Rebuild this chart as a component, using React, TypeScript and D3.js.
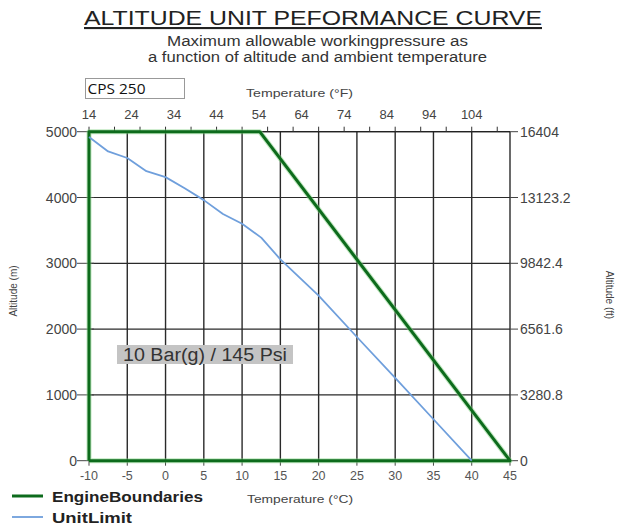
import React from 'react'
import * as d3 from 'd3'

// engine boundary polygon (°C, m)
const engineBoundaries: [number, number][] = [
  [-10, 0], [-10, 5000], [12.3, 5000], [45, 0], [-10, 0],
]
// unit limit curve (°C, m)
const unitLimit: [number, number][] = [
  [-10, 4920], [-7.5, 4700], [-5, 4600], [-2.5, 4400], [0, 4310], [2.5, 4140],
  [5, 3960], [7.5, 3750], [10, 3600], [12.5, 3390], [15, 3060], [20, 2510],
  [25, 1880], [30, 1260], [35, 630], [40, 0],
]
const celsiusTicks = [-10, -5, 0, 5, 10, 15, 20, 25, 30, 35, 40, 45]
const fahrenheitLabels = [14, 24, 34, 44, 54, 64, 74, 84, 94, 104]
const fahrenheitTicks = [14, 20, 26, 32, 38, 44, 50, 56, 62, 68, 74, 80, 86, 92, 98, 104, 110]
const altitudeTicks = [0, 1000, 2000, 3000, 4000, 5000]
const feetLabels = ['0', '3280.8', '6561.6', '9842.4', '13123.2', '16404']

const W = 618
const H = 529
const font = '"Liberation Sans", Arial, sans-serif'

export default function App() {
  const x = d3.scaleLinear().domain([-10, 45]).range([89, 510])
  const xf = d3.scaleLinear().domain([14, 113]).range([89, 510])
  const y = d3.scaleLinear().domain([0, 5000]).range([460.7, 131.7])
  const line = d3.line<[number, number]>().x(d => x(d[0])).y(d => y(d[1]))

  const [x0, x1] = x.range()
  const [yb, yt] = y.range()

  return (
    <div style={{ position: 'fixed', left: 0, top: 0 }}>
      <svg width={W} height={H} style={{ display: 'block', background: '#fff' }} fontFamily={font}>
        {/* titles */}
        <text x={84} y={25} fontSize={21} fill="#222" textDecoration="underline" textLength={458} lengthAdjust="spacingAndGlyphs">
          ALTITUDE UNIT PEFORMANCE CURVE
        </text>
        <text x={167} y={46} fontSize={15.5} fill="#333" textLength={301} lengthAdjust="spacingAndGlyphs">Maximum allowable workingpressure as</text>
        <text x={148} y={62} fontSize={15.5} fill="#333" textLength={339} lengthAdjust="spacingAndGlyphs">a function of altitude and ambient temperature</text>

        {/* CPS box */}
        <rect x={85.5} y={78.5} width={99} height={20} fill="#fff" stroke="#999" />
        <text x={87.5} y={94} fontSize={15} fill="#111" fontFamily='"Open Sans", "Noto Sans", sans-serif' textLength={58} lengthAdjust="spacingAndGlyphs">CPS 250</text>

        <text x={246} y={97} fontSize={11} fill="#444" textLength={107} lengthAdjust="spacingAndGlyphs">Temperature (°F)</text>

        {/* grid */}
        {celsiusTicks.slice(1).map(t => (
          <line key={'vg' + t} x1={x(t)} x2={x(t)} y1={yt} y2={yb} stroke="#2a2a2a" strokeWidth={1.4} />
        ))}
        {altitudeTicks.slice(1).map(t => (
          <line key={'hg' + t} x1={x0} x2={x1} y1={y(t)} y2={y(t)} stroke="#2a2a2a" strokeWidth={1.2} />
        ))}
        <line x1={x0} x2={x1} y1={yt} y2={yt} stroke="#222" strokeWidth={1.3} />

        {/* top °F axis */}
        {fahrenheitTicks.map(t => (
          <line key={'ft' + t} x1={xf(t)} x2={xf(t)} y1={yt - 5} y2={yt} stroke="#333" strokeWidth={1} />
        ))}
        {fahrenheitLabels.map(t => (
          <text key={'fl' + t} x={xf(t)} y={119} textAnchor="middle" fontSize={13} fill="#444">{t}</text>
        ))}

        {/* left axis */}
        {altitudeTicks.map(t => (
          <g key={'la' + t}>
            <line x1={x0 - 12} x2={x0 + 5} y1={y(t)} y2={y(t)} stroke="#444" strokeWidth={1} />
            <text x={x0 - 12} y={y(t) + 5} textAnchor="end" fontSize={14} fill="#444">{t}</text>
          </g>
        ))}
        {/* right axis */}
        {altitudeTicks.map((t, i) => (
          <g key={'ra' + t}>
            <line x1={x1} x2={x1 + 8} y1={y(t)} y2={y(t)} stroke="#444" strokeWidth={1} />
            <text x={x1 + 10} y={y(t) + 5} fontSize={14} fill="#444">{feetLabels[i]}</text>
          </g>
        ))}

        {/* bottom axis */}
        {celsiusTicks.map(t => (
          <g key={'ba' + t}>
            <line x1={x(t)} x2={x(t)} y1={yb} y2={yb + 5} stroke="#444" strokeWidth={1} />
            <text x={x(t)} y={yb + 19} textAnchor="middle" fontSize={12.5} fill="#555">{t}</text>
          </g>
        ))}
        <text x={247} y={503} fontSize={11} fill="#444" textLength={106} lengthAdjust="spacingAndGlyphs">Temperature (°C)</text>

        <text transform="translate(17,291) rotate(-90)" textAnchor="middle" fontSize={10} fill="#444">Altitude (m)</text>
        <text transform="translate(606,295) rotate(90)" textAnchor="middle" fontSize={10} fill="#444">Altitude (ft)</text>

        {/* series */}
        <path d={line(engineBoundaries) ?? ''} fill="none" stroke="#7fd07f" strokeWidth={5} strokeOpacity={0.5} strokeLinejoin="round" />
        <path d={line(engineBoundaries) ?? ''} fill="none" stroke="#0d6b1c" strokeWidth={3} strokeLinejoin="round" />
        <path d={line(unitLimit) ?? ''} fill="none" stroke="#6f9fdc" strokeWidth={1.8} strokeLinejoin="round" />

        {/* annotation */}
        <rect x={117} y={345} width={176} height={19} fill="#c4c4c4" />
        <text x={123} y={361} fontSize={18} fill="#333" textLength={164} lengthAdjust="spacingAndGlyphs">10 Bar(g) / 145 Psi</text>

        {/* legend */}
        <line x1={12} x2={43} y1={496} y2={496} stroke="#0d6b1c" strokeWidth={3} />
        <text x={52} y={501.5} fontSize={14} fontWeight="bold" fill="#222" textLength={151} lengthAdjust="spacingAndGlyphs">EngineBoundaries</text>
        <line x1={12} x2={43} y1={517} y2={517} stroke="#6f9fdc" strokeWidth={1.8} />
        <text x={52} y={522.5} fontSize={14} fontWeight="bold" fill="#222" textLength={80} lengthAdjust="spacingAndGlyphs">UnitLimit</text>
      </svg>
    </div>
  )
}
